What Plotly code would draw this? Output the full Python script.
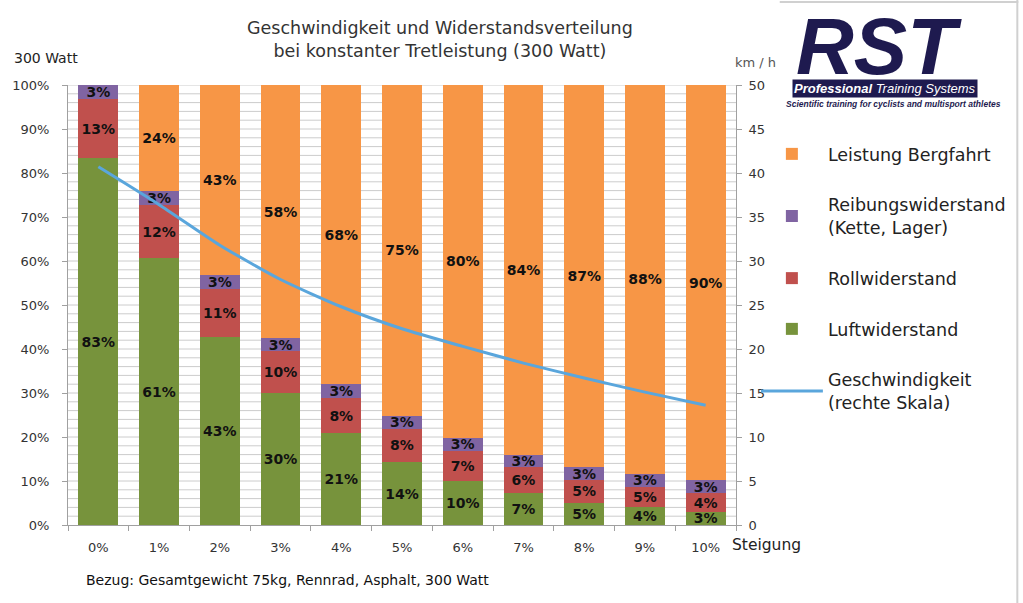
import plotly.graph_objects as go

categories = ["0%", "1%", "2%", "3%", "4%", "5%", "6%", "7%", "8%", "9%", "10%"]
luft = [83.4, 60.6, 42.8, 29.9, 20.9, 14.3, 10.0, 7.2, 5.1, 4.0, 3.0]
roll = [13.4, 12.1, 10.8, 9.6, 7.9, 7.6, 6.8, 5.9, 5.1, 4.7, 4.2]
reibung = [3.2, 3.1, 3.2, 2.9, 3.2, 2.9, 3.0, 2.9, 3.0, 3.0, 3.0]
berg = [None, 24.2, 43.2, 57.6, 68.0, 75.2, 80.2, 84.0, 86.8, 88.3, 89.8]
speed = [40.7, 36.4, 31.8, 27.9, 24.8, 22.3, 20.3, 18.4, 16.7, 15.1, 13.6]
grid_kmh = list(range(1, 51))  # light gridlines every 1 km/h (right scale)

colors = {"luft": "#77933C", "roll": "#C0504D", "reib": "#8064A2", "berg": "#F79646"}
FONT = "DejaVu Sans"

# plot area in pixels
L, R, T, B = 64, 736, 85, 525
def px(x):
    return (x - L) / (R - L)
def py(y):
    return (B - y) / (B - T)

fig = go.Figure()
series = [
    ("Luftwiderstand", luft, colors["luft"], 4),
    ("Rollwiderstand", roll, colors["roll"], 3),
    ("Reibungswiderstand<br>(Kette, Lager)", reibung, colors["reib"], 2),
    ("Leistung Bergfahrt", berg, colors["berg"], 1),
]
for name, vals, col, rank in series:
    fig.add_trace(go.Bar(
        x=categories, y=vals, name=name, marker=dict(color=col, line=dict(width=0)),
        texttemplate="<b>%{y:.0f}%</b>", textposition="inside", insidetextanchor="middle",
        textangle=0, constraintext="none",
        textfont=dict(family=FONT, size=14, color="#111111"),
        legendrank=rank, legendgroup=name, hoverinfo="skip",
    ))
fig.add_trace(go.Scatter(
    x=categories, y=speed, yaxis="y2", mode="lines", name="Geschwindigkeit<br>(rechte Skala)",
    line=dict(color="#5AA6DC", width=3, shape="spline", smoothing=0.6),
    legendrank=5, legendgroup="speed",
))

fig.update_layout(
    width=1023, height=603,
    margin=dict(l=L, r=1023 - R, t=T, b=603 - B, pad=0),
    paper_bgcolor="white", plot_bgcolor="white",
    barmode="stack", bargap=0.345,
    uniformtext=dict(minsize=14, mode="show"),
    font=dict(family=FONT, color="#222222"),
    showlegend=True,
    legend=dict(x=px(756), y=py(136), xanchor="left", yanchor="top",
                font=dict(family=FONT, size=17.5, color="#222222"),
                tracegroupgap=25, bgcolor="rgba(0,0,0,0)", itemwidth=62),
    xaxis=dict(range=[-0.5, 10.5], showline=True, linecolor="#A0A0A0", linewidth=1,
               ticks="outside", tickson="boundaries", ticklen=5, tickcolor="#A0A0A0",
               tickfont=dict(family=FONT, size=13, color="#333333"), showgrid=False,
               ticklabelstandoff=10),
    yaxis=dict(range=[0, 100], tickmode="linear", tick0=0, dtick=10, ticksuffix="%",
               showline=True, linecolor="#A0A0A0",
               ticks="outside", ticklen=5, tickcolor="#A0A0A0",
               tickfont=dict(family=FONT, size=13, color="#333333"),
               showgrid=False, zeroline=False, ticklabelstandoff=10),
    yaxis2=dict(range=[0, 50], tickmode="linear", tick0=0, dtick=5, overlaying="y", side="right",
                showline=True, linecolor="#A0A0A0", ticks="outside", ticklen=5, tickcolor="#A0A0A0",
                tickfont=dict(family=FONT, size=13, color="#333333"),
                showgrid=False, zeroline=False, ticklabelstandoff=4),
)

for g in grid_kmh:
    fig.add_shape(type="line", xref="paper", yref="y2", x0=0, x1=1, y0=g, y1=g,
                  layer="below", line=dict(color="#CCCCCC", width=1))

annotations = [
    dict(text="Geschwindigkeit und Widerstandsverteilung<br>bei konstanter Tretleistung (300 Watt)",
         x=px(438), y=py(39), xanchor="center", yanchor="middle",
         font=dict(size=17.5, color="#333333")),
    dict(text="300 Watt", x=px(8), y=py(58), xanchor="left", yanchor="middle",
         font=dict(size=14, color="#222222")),
    dict(text="km / h", x=px(733), y=py(62), xanchor="left", yanchor="middle",
         font=dict(size=13, color="#555555")),
    dict(text="Steigung", x=px(730), y=py(545), xanchor="left", yanchor="middle",
         font=dict(size=15.5, color="#222222")),
    dict(text="Bezug: Gesamtgewicht 75kg, Rennrad, Asphalt, 300 Watt", x=px(80), y=py(580),
         xanchor="left", yanchor="middle", font=dict(size=14, color="#111111")),
    # logo
    dict(text="RST", x=px(880), y=py(47), xanchor="center", yanchor="middle",
         font=dict(family="Liberation Sans", size=80, color="#1E1A4F", weight="bold", style="italic")),
    dict(text="<b>Professional</b> Training Systems", x=px(792), y=py(89), xanchor="left",
         yanchor="middle", font=dict(family="Liberation Sans", size=13, color="white", style="italic"),
         bgcolor="#1E1A4F", borderpad=1),
    dict(text="<b>Scientific training for cyclists and multisport athletes</b>", x=px(784), y=py(104),
         xanchor="left", yanchor="middle",
         font=dict(family="Liberation Sans", size=8.5, color="#1E1A4F", style="italic")),
]
for a in annotations:
    a.update(xref="paper", yref="paper", showarrow=False)
    fig.add_annotation(**a)

fig.add_shape(type="line", xref="paper", yref="paper", x0=px(1019), x1=px(1019), y0=py(0), y1=py(603),
              line=dict(color="#D0D0D0", width=2))
fig.add_shape(type="line", xref="paper", yref="paper", x0=px(780), x1=px(1020), y0=py(2), y1=py(2),
              line=dict(color="#D0D0D0", width=2))

fig.write_html("out.html")
